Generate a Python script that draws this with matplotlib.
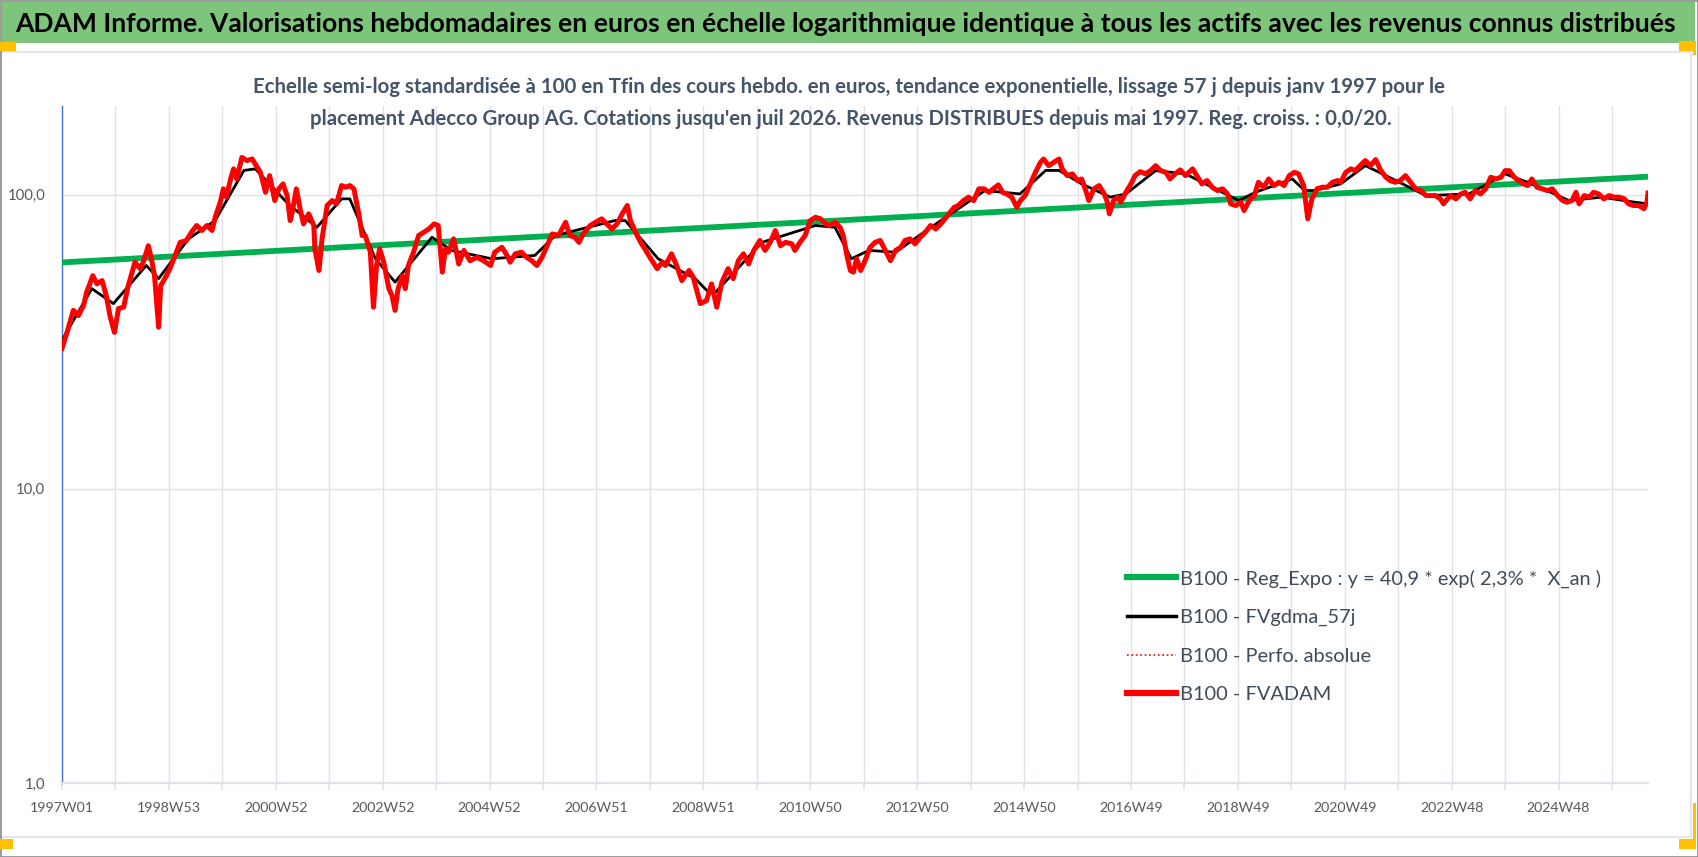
import matplotlib
matplotlib.use("Agg")
import matplotlib.pyplot as plt
from matplotlib.lines import Line2D
from matplotlib.patches import Rectangle
from matplotlib.ticker import FixedLocator, FixedFormatter, NullLocator

plt.rcParams['font.family'] = ['Lato', 'DejaVu Sans']

# ---------------- data ----------------
title = ("ADAM Informe. Valorisations hebdomadaires en euros en échelle logarithmique "
         "identique à tous les actifs avec les revenus connus distribués")
subtitle1 = ("Echelle semi-log standardisée à 100 en Tfin des cours hebdo. en euros, tendance "
             "exponentielle, lissage 57 j depuis janv 1997 pour le")
subtitle2 = ("placement Adecco Group AG. Cotations jusqu'en juil 2026. Revenus DISTRIBUES "
             "depuis mai 1997. Reg. croiss. : 0,0/20.")

tick_labels = ["1997W01", "1998W53", "2000W52", "2002W52", "2004W52", "2006W51",
               "2008W51", "2010W50", "2012W50", "2014W50", "2016W49", "2018W49",
               "2020W49", "2022W48", "2024W48"]
last_week = 1543

legend_labels = ["B100 - Reg_Expo : y = 40,9 * exp( 2,3% *  X_an )",
                 "B100 - FVgdma_57j",
                 "B100 - Perfo. absolue",
                 "B100 - FVADAM"]

fvadam_week = [0, 6, 11, 16, 21, 24, 30, 34, 39, 43, 47, 51, 55, 60, 64, 71, 76, 79, 84, 87,
               90, 94, 96, 100, 105, 110, 115, 121, 126, 131, 136, 141, 146, 149, 154, 157,
               160, 164, 167, 170, 175, 180, 185, 189, 193, 198, 202, 207, 211, 215, 219,
               222, 224, 228, 232, 235, 240, 245, 246, 250, 253, 258, 263, 267, 272, 276,
               280, 284, 289, 292, 295, 300, 303, 306, 309, 313, 318, 321, 324, 327, 331,
               334, 337, 342, 347, 352, 357, 362, 366, 370, 373, 376, 381, 386, 391, 397,
               404, 410, 417, 421, 428, 433, 436, 441, 447, 452, 457, 462, 467, 472, 477,
               483, 490, 494, 499, 503, 507, 514, 519, 525, 530, 535, 540, 545, 550, 553,
               558, 563, 567, 572, 579, 584, 587, 593, 598, 603, 610, 614, 621, 627, 632,
               637, 642, 648, 653, 658, 663, 668, 673, 679, 684, 689, 694, 699, 704, 710,
               713, 718, 723, 728, 733, 738, 743, 747, 752, 757, 760, 764, 767, 770, 773,
               777, 782, 786, 791, 796, 801, 806, 811, 816, 820, 825, 830, 835, 840, 845,
               850, 855, 859, 863, 868, 872, 877, 882, 887, 892, 897, 902, 906, 911, 915,
               919, 924, 929, 932, 937, 942, 947, 952, 955, 960, 965, 970, 973, 978, 983,
               988, 992, 996, 999, 1004, 1009, 1014, 1017, 1019, 1023, 1027, 1030, 1035,
               1040, 1044, 1049, 1054, 1059, 1064, 1069, 1074, 1078, 1083, 1088, 1093,
               1100, 1104, 1109, 1114, 1119, 1124, 1129, 1134, 1137, 1142, 1147, 1150,
               1155, 1160, 1164, 1169, 1174, 1179, 1184, 1189, 1194, 1199, 1203, 1208,
               1212, 1216, 1221, 1226, 1231, 1236, 1241, 1244, 1249, 1254, 1258, 1263,
               1268, 1273, 1278, 1283, 1288, 1292, 1297, 1302, 1307, 1312, 1317, 1322,
               1327, 1331, 1336, 1341, 1344, 1348, 1351, 1356, 1361, 1365, 1370, 1375,
               1380, 1385, 1390, 1395, 1400, 1404, 1408, 1413, 1417, 1422, 1426, 1430,
               1435, 1440, 1445, 1450, 1455, 1460, 1464, 1469, 1473, 1476, 1481, 1486,
               1490, 1495, 1500, 1505, 1510, 1515, 1520, 1524, 1529, 1534, 1539, 1542, 1543]
fvadam_value = [30.0, 35.0, 40.4, 38.8, 42.0, 46.6, 53.0, 49.7, 51.0, 45.4, 38.3, 34.0, 41.0,
                41.4, 48.4, 58.9, 56.0, 58.9, 67.0, 60.5, 53.0, 35.4, 49.0, 51.8, 56.0, 62.0,
                68.8, 69.8, 74.5, 78.5, 75.5, 78.5, 75.5, 83.7, 94.2, 104.6, 98.0, 113.0,
                122.3, 113.0, 133.8, 130.5, 132.1, 125.4, 119.0, 101.8, 116.0, 95.4, 104.6,
                108.7, 99.2, 81.6, 87.1, 104.6, 88.2, 79.5, 86.0, 78.5, 65.4, 55.2, 70.7,
                91.8, 95.4, 93.0, 107.3, 105.9, 107.3, 104.6, 84.9, 72.6, 72.6, 63.7, 41.4,
                57.4, 65.4, 58.9, 47.9, 45.4, 40.4, 47.9, 53.0, 47.9, 57.4, 63.7, 72.6, 74.5,
                76.4, 79.5, 78.5, 54.5, 65.4, 63.7, 70.7, 58.1, 64.6, 59.6, 61.2, 59.6, 57.4,
                63.7, 66.2, 62.1, 58.9, 62.9, 63.7, 61.2, 59.6, 57.4, 61.2, 67.0, 73.5, 72.6,
                80.5, 72.6, 71.6, 68.8, 73.5, 78.5, 80.5, 82.7, 79.5, 76.4, 79.5, 86.0, 91.8,
                81.6, 74.5, 68.8, 65.4, 61.2, 56.0, 58.9, 57.4, 62.9, 57.4, 51.0, 55.2, 52.5,
                42.6, 43.6, 49.7, 41.4, 50.4, 56.0, 51.8, 59.6, 62.9, 58.1, 64.6, 69.8, 64.6,
                68.8, 75.5, 67.0, 68.8, 68.0, 64.6, 68.8, 72.6, 81.6, 83.7, 82.7, 79.5, 78.5,
                80.5, 77.4, 72.6, 61.2, 55.2, 54.5, 60.5, 55.2, 60.5, 66.0, 68.8, 69.8, 64.6,
                59.6, 64.6, 66.2, 69.8, 70.7, 68.0, 71.6, 74.5, 78.5, 76.4, 79.5, 82.7, 86.0,
                90.5, 91.8, 95.4, 98.0, 95.4, 104.6, 104.6, 101.8, 104.6, 107.9, 101.8, 100.5,
                98.0, 90.5, 95.0, 99.2, 108.7, 119.0, 128.8, 132.1, 125.4, 128.8, 132.1,
                122.3, 116.0, 117.6, 111.6, 113.0, 103.2, 95.4, 104.6, 107.3, 100.5, 94.2,
                86.0, 95.4, 98.0, 94.2, 101.8, 108.7, 116.0, 119.7, 117.6, 120.6, 125.4,
                120.6, 119.0, 113.0, 117.6, 121.3, 116.0, 122.3, 116.0, 108.7, 111.6, 105.9,
                103.2, 104.6, 100.5, 93.0, 91.8, 94.2, 88.2, 95.4, 99.2, 110.1, 105.9, 113.0,
                107.3, 110.1, 107.3, 116.0, 119.0, 117.6, 107.3, 82.7, 96.7, 104.6, 105.9,
                105.9, 110.1, 111.6, 110.1, 119.0, 122.3, 120.6, 125.4, 130.5, 125.4, 131.5,
                120.8, 114.5, 111.6, 110.1, 111.6, 116.0, 110.1, 104.6, 103.2, 99.2, 99.2,
                99.2, 96.7, 93.0, 96.7, 99.2, 96.7, 100.5, 101.8, 96.7, 103.2, 100.5, 104.6,
                114.5, 113.0, 114.5, 120.6, 120.6, 114.5, 111.6, 108.7, 107.3, 113.0, 105.9,
                104.6, 103.2, 104.6, 99.2, 95.4, 94.2, 95.4, 101.8, 93.0, 99.2, 98.0, 101.8,
                100.5, 96.7, 99.2, 98.0, 98.0, 96.7, 93.0, 91.8, 91.8, 89.5, 94.2, 101.2]

gdma_week = [0, 29, 50, 82, 94, 123, 149, 177, 188, 220, 248, 272, 280, 305, 324, 360, 379,
             418, 460, 480, 538, 548, 580, 616, 629, 636, 681, 733, 752, 768, 785, 811, 843,
             898, 932, 957, 970, 992, 1020, 1035, 1064, 1093, 1122, 1145, 1161, 1197, 1209,
             1219, 1244, 1268, 1288, 1327, 1369, 1404, 1434, 1466, 1498, 1530, 1543]
gdma_value = [32.0, 47.9, 42.6, 57.4, 51.8, 70.7, 81.6, 120.8, 122.3, 93.0, 77.4, 96.7, 96.7,
              60.5, 50.4, 71.6, 64.6, 60.5, 62.1, 72.6, 81.6, 81.6, 60.5, 51.8, 46.6, 46.6,
              68.8, 78.5, 77.4, 60.5, 64.6, 63.7, 76.4, 103.2, 100.5, 120.8, 120.8, 108.7,
              98.0, 100.5, 120.6, 117.6, 104.6, 95.4, 101.8, 113.0, 103.2, 103.2, 108.7,
              125.4, 116.0, 99.2, 100.5, 117.6, 107.3, 95.4, 98.0, 94.2, 93.0]

reg_week = [0, 1543]
reg_value = [58.8, 115.0]

# ---------------- figure ----------------
W, H, DPI = 1698, 857, 100
fig = plt.figure(figsize=(W / DPI, H / DPI), dpi=DPI)
fig.patch.set_facecolor("white")
renderer = fig.canvas.get_renderer()


def fx(x):
    return x / W


def fy(y):
    return 1 - y / H


def text_w(txt, size, weight="normal"):
    t = fig.text(0, 0, txt, fontsize=size, fontweight=weight)
    w = t.get_window_extent(renderer=renderer).width
    t.remove()
    return w


def text_h(txt, size, weight="normal"):
    t = fig.text(0, 0, txt, fontsize=size, fontweight=weight)
    h = t.get_window_extent(renderer=renderer).height
    t.remove()
    return h


def fit(txt, target, weight="normal"):
    return 20 * target / text_w(txt, 20, weight)


# frame and decorations
fig.add_artist(Rectangle((fx(2), fy(43)), fx(1693), 41 / H, transform=fig.transFigure,
                         facecolor="#7ec57c", edgecolor="none", zorder=0))
light = "#e4e6ea"
fig.add_artist(Line2D([fx(1), fx(1691)], [fy(52), fy(52)], transform=fig.transFigure,
                      color=light, lw=1.6))
fig.add_artist(Line2D([fx(1691), fx(1691)], [fy(52), fy(837)], transform=fig.transFigure,
                      color=light, lw=1.6))
fig.add_artist(Line2D([fx(1), fx(1691)], [fy(837), fy(837)], transform=fig.transFigure,
                      color=light, lw=1.6))
fig.add_artist(Rectangle((fx(0.5), fy(856.5)), fx(1697), 856 / H, transform=fig.transFigure,
                         facecolor="none", edgecolor="#8a8a8a", lw=1.2, zorder=5))
gold = "#ffc000"
for (x0, y0, w, h) in [(0, 42, 16, 9), (1679, 41, 16, 10), (1693, 41, 3, 14),
                       (0, 839, 13, 10), (1679, 839, 17, 10), (1693, 803, 3, 46)]:
    fig.add_artist(Rectangle((fx(x0), fy(y0 + h)), w / W, h / H, transform=fig.transFigure,
                             facecolor=gold, edgecolor="none", zorder=6))

# titles
fs_title = fit(title, 1657, "bold")
fig.text(fx(845), fy(32), title, fontsize=fs_title, fontweight="bold", color="black",
         ha="center", va="baseline")
fs_sub = fit(subtitle1, 1195, "bold")
sub_col = "#44546a"
fig.text(fx(849), fy(93), subtitle1, fontsize=fs_sub, fontweight="bold", color=sub_col,
         ha="center", va="baseline")
fig.text(fx(851), fy(125), subtitle2, fontsize=fs_sub, fontweight="bold", color=sub_col,
         ha="center", va="baseline")

# axes
ax_l, ax_r, ax_t, ax_b = 62, 1648, 106, 783
ax = fig.add_axes([fx(ax_l), fy(ax_b), (ax_r - ax_l) / W, (ax_b - ax_t) / H])
ax.set_facecolor("none")
ax.set_yscale("log")
ax.set_xlim(0, last_week)
ax.set_ylim(1, 200)

grid_col = "#dfe2e8"
ax.xaxis.set_major_locator(FixedLocator(list(range(0, last_week + 1, 104))))
ax.xaxis.set_major_formatter(FixedFormatter(tick_labels))
ax.xaxis.set_minor_locator(FixedLocator(list(range(52, last_week + 1, 104))))
ax.yaxis.set_major_locator(FixedLocator([1, 10, 100]))
ax.yaxis.set_major_formatter(FixedFormatter(["1,0", "10,0", "100,0"]))
ax.yaxis.set_minor_locator(NullLocator())

fs_xt = fit("1997W01", 64)
fs_yt = fit("100,0", 38)
ax.tick_params(axis="x", which="both", length=5, width=1.2, color=grid_col,
               labelsize=fs_xt, labelcolor="#595959", pad=9)
ax.tick_params(axis="y", which="both", length=0, labelsize=fs_yt, labelcolor="#595959",
               pad=12)
ax.grid(True, axis="x", which="both", color=grid_col, lw=1.0)
ax.grid(True, axis="y", which="major", color=grid_col, lw=1.0)
ax.set_axisbelow(True)
for s in ("top", "right"):
    ax.spines[s].set_visible(False)
ax.spines["left"].set_color("#4472c4")
ax.spines["left"].set_linewidth(1.0)
ax.spines["bottom"].set_color(grid_col)
ax.spines["bottom"].set_linewidth(1.6)

# series
l_reg, = ax.plot(reg_week, reg_value, color="#00b050", lw=4.2, solid_capstyle="butt", zorder=3)
l_gd, = ax.plot(gdma_week, gdma_value, color="black", lw=2.0, zorder=4)
l_pa, = ax.plot(fvadam_week, fvadam_value, color="red", lw=1.0, ls=":", zorder=4.5)
l_fv, = ax.plot(fvadam_week, fvadam_value, color="red", lw=3.6, zorder=5)

# legend
fs_leg = fit(legend_labels[0], 422)
fpx = fs_leg * DPI / 72
h_row = text_h("B100 - FVgdma_57j", fs_leg)
pitch = 38.7
h_reg = Line2D([], [], color="#00b050", lw=4.5)
h_gd = Line2D([], [], color="black", lw=2.5)
h_pa = Line2D([], [], color="red", lw=1.2, ls=":")
h_fv = Line2D([], [], color="red", lw=4.5)
leg = ax.legend([h_reg, h_gd, h_pa, h_fv], legend_labels, loc="upper left",
                bbox_to_anchor=(fx(1127), fy(578 - h_row / 2)), bbox_transform=fig.transFigure,
                frameon=False, fontsize=fs_leg, borderpad=0, borderaxespad=0,
                handlelength=49 / fpx, handletextpad=4 / fpx,
                labelspacing=(pitch - h_row) / fpx, labelcolor="#404b5a")

fig.savefig("out.png", dpi=DPI, facecolor="white")
